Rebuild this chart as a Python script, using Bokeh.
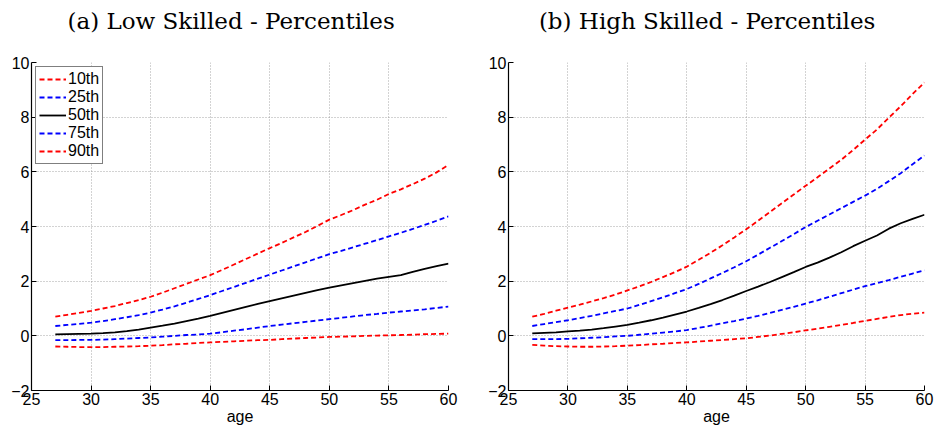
from bokeh.plotting import figure
from bokeh.layouts import row, column
from bokeh.models import FixedTicker, Legend, LegendItem, Range1d
from bokeh.core.properties import value
from bokeh.embed import file_html
from bokeh.resources import INLINE

# Age grid and earnings percentiles by skill group
ages = list(range(27, 61))

low_p10 = [-0.39, -0.40, -0.41, -0.41, -0.41, -0.40, -0.39, -0.38, -0.36, -0.34, -0.31, -0.29,
           -0.26, -0.24, -0.22, -0.20, -0.18, -0.16, -0.15, -0.12, -0.10, -0.08, -0.06, -0.04,
           -0.03, -0.02, 0.00, 0.01, 0.02, 0.03, 0.04, 0.06, 0.07, 0.08]
low_p25 = [-0.16, -0.16, -0.15, -0.15, -0.14, -0.12, -0.10, -0.08, -0.06, -0.03, 0.00, 0.03,
           0.05, 0.08, 0.13, 0.19, 0.24, 0.30, 0.36, 0.41, 0.46, 0.51, 0.56, 0.61,
           0.66, 0.71, 0.76, 0.80, 0.85, 0.89, 0.93, 0.97, 1.02, 1.07]
low_p50 = [0.05, 0.06, 0.07, 0.08, 0.10, 0.13, 0.17, 0.23, 0.30, 0.37, 0.45, 0.54,
           0.63, 0.73, 0.84, 0.95, 1.06, 1.17, 1.27, 1.37, 1.47, 1.57, 1.67, 1.76,
           1.85, 1.93, 2.01, 2.09, 2.16, 2.22, 2.34, 2.45, 2.55, 2.64]
low_p75 = [0.36, 0.40, 0.44, 0.48, 0.54, 0.61, 0.68, 0.76, 0.85, 0.96, 1.08, 1.21,
           1.35, 1.49, 1.64, 1.79, 1.94, 2.09, 2.24, 2.39, 2.54, 2.69, 2.84, 2.99,
           3.11, 3.24, 3.37, 3.50, 3.64, 3.77, 3.91, 4.06, 4.21, 4.37]
low_p90 = [0.70, 0.77, 0.84, 0.91, 1.00, 1.09, 1.20, 1.31, 1.43, 1.58, 1.74, 1.90,
           2.06, 2.22, 2.41, 2.61, 2.81, 3.01, 3.21, 3.40, 3.60, 3.80, 4.02, 4.25,
           4.42, 4.60, 4.80, 4.98, 5.19, 5.36, 5.55, 5.75, 5.98, 6.25]

high_p10 = [-0.33, -0.36, -0.38, -0.39, -0.40, -0.40, -0.39, -0.38, -0.36, -0.34, -0.31, -0.29,
            -0.26, -0.24, -0.21, -0.18, -0.15, -0.12, -0.09, -0.04, 0.01, 0.07, 0.13, 0.20,
            0.26, 0.33, 0.40, 0.47, 0.55, 0.62, 0.69, 0.76, 0.81, 0.85]
high_p25 = [-0.12, -0.12, -0.12, -0.11, -0.09, -0.07, -0.05, -0.02, 0.00, 0.04, 0.08, 0.12,
            0.16, 0.21, 0.29, 0.37, 0.46, 0.54, 0.63, 0.73, 0.84, 0.95, 1.06, 1.18,
            1.30, 1.43, 1.56, 1.69, 1.82, 1.93, 2.04, 2.16, 2.28, 2.40]
high_p50 = [0.09, 0.11, 0.13, 0.16, 0.19, 0.23, 0.28, 0.34, 0.40, 0.48, 0.57, 0.67,
            0.78, 0.89, 1.02, 1.16, 1.31, 1.47, 1.64, 1.80, 1.97, 2.15, 2.33, 2.52,
            2.68, 2.86, 3.06, 3.28, 3.48, 3.67, 3.92, 4.12, 4.28, 4.43]
high_p75 = [0.36, 0.43, 0.50, 0.57, 0.65, 0.73, 0.82, 0.91, 1.00, 1.13, 1.27, 1.41,
            1.56, 1.71, 1.90, 2.10, 2.30, 2.51, 2.73, 2.97, 3.22, 3.47, 3.72, 3.98,
            4.21, 4.44, 4.67, 4.90, 5.13, 5.38, 5.66, 5.95, 6.28, 6.60]
high_p90 = [0.70, 0.80, 0.92, 1.03, 1.14, 1.26, 1.38, 1.51, 1.66, 1.81, 1.97, 2.15,
            2.33, 2.53, 2.78, 3.04, 3.31, 3.60, 3.90, 4.21, 4.53, 4.85, 5.17, 5.49,
            5.80, 6.12, 6.44, 6.80, 7.18, 7.55, 7.98, 8.40, 8.85, 9.27]

labels = ["10th", "25th", "50th", "75th", "90th"]
titles = ["(a) Low Skilled - Percentiles", "(b) High Skilled - Percentiles"]
x_ticks = [25, 30, 35, 40, 45, 50, 55, 60]
y_ticks = [-2, 0, 2, 4, 6, 8, 10]

line_colors = ["#ff0000", "#0000ff", "#000000", "#0000ff", "#ff0000"]
line_dashes = ["5 3", "5 3", "solid", "5 3", "5 3"]

SANS = "Liberation Sans"
HEAD_H = 50
TOTAL_H = 429


def make_heading(text, width, center_x):
    # strip holding the panel heading; y runs downward in pixels
    h = figure(width=width, height=HEAD_H, x_range=Range1d(0, width),
               y_range=Range1d(HEAD_H, 0), x_axis_type=None, y_axis_type=None,
               output_backend="svg", toolbar_location=None,
               min_border=0, min_border_left=0, min_border_right=0,
               min_border_top=0, min_border_bottom=0)
    h.outline_line_color = None
    h.grid.visible = False
    h.text(x=[center_x], y=[20], text=[text], text_align="center",
           text_baseline="middle", text_font=value("DejaVu Serif"),
           text_font_size="23px", text_color="#000000")
    return h


def make_panel(series, width, border_left, border_right, with_legend):
    p = figure(width=width, height=TOTAL_H - HEAD_H, x_range=(25, 60), y_range=(-2, 10),
               output_backend="svg", toolbar_location=None,
               min_border_left=border_left, min_border_right=border_right,
               min_border_top=62 - HEAD_H, min_border_bottom=39)
    p.outline_line_color = None

    for ax in (p.xaxis[0], p.yaxis[0]):
        ax.major_tick_in = 5
        ax.major_tick_out = 0
        ax.minor_tick_line_color = None
        ax.axis_line_color = "#000000"
        ax.axis_line_width = 1.2
        ax.major_tick_line_color = "#000000"
        ax.major_label_text_font = SANS
        ax.major_label_text_font_size = "16px"
        ax.major_label_text_color = "#000000"
        ax.major_label_standoff = 2
    p.xaxis[0].ticker = FixedTicker(ticks=x_ticks)
    p.yaxis[0].ticker = FixedTicker(ticks=y_ticks)
    p.xaxis[0].major_label_overrides = {v: str(v) for v in x_ticks}
    p.yaxis[0].major_label_overrides = {v: ("\u22122" if v == -2 else str(v)) for v in y_ticks}
    p.xaxis[0].axis_label = "age"
    p.xaxis[0].axis_label_text_font = SANS
    p.xaxis[0].axis_label_text_font_size = "16px"
    p.xaxis[0].axis_label_text_font_style = "normal"
    p.xaxis[0].axis_label_text_color = "#000000"
    p.xaxis[0].axis_label_standoff = 0

    for g in (p.xgrid[0], p.ygrid[0]):
        g.grid_line_color = "#888888"
        g.grid_line_dash = "1 2"
        g.grid_line_width = 1
        g.grid_line_alpha = 0.75

    items = []
    for lab, ys, c, d in zip(labels, series, line_colors, line_dashes):
        r = p.line(ages, ys, line_color=c, line_dash=d, line_width=1.8)
        items.append(LegendItem(label=lab, renderers=[r]))

    if with_legend:
        leg = Legend(items=items, location="top_left")
        leg.margin = 4
        leg.padding = 3
        leg.spacing = 0
        leg.glyph_width = 27
        leg.glyph_height = 18
        leg.label_height = 18
        leg.label_standoff = 2
        leg.label_text_font = SANS
        leg.label_text_font_size = "16px"
        leg.label_text_color = "#000000"
        leg.border_line_color = "#000000"
        leg.border_line_width = 1.2
        leg.background_fill_alpha = 1.0
        p.add_layout(leg)
    return p


h1 = make_heading(titles[0], 470, 225)
h2 = make_heading(titles[1], 465, 222)
p1 = make_panel([low_p10, low_p25, low_p50, low_p75, low_p90], 470, 31, 22, True)
p2 = make_panel([high_p10, high_p25, high_p50, high_p75, high_p90], 465, 38, 11, False)

layout = row(column(h1, p1), column(h2, p2))
open("out.html", "w").write(file_html(layout, INLINE))
